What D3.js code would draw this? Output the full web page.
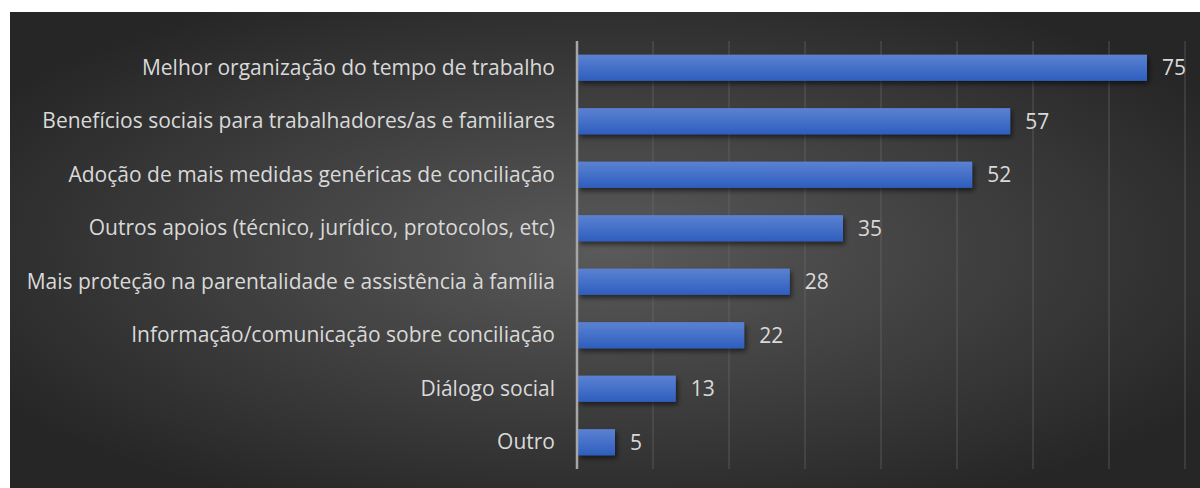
<!DOCTYPE html>
<html>
<head>
<meta charset="utf-8">
<script src="https://cdn.jsdelivr.net/npm/d3@7"></script>
<style>
  body { margin: 0; background: #fff; }
  text { font-family: "Open Sans", sans-serif; }
</style>
</head>
<body>
<div id="chart"></div>
<script>
let categories = [
    "Melhor organização do tempo de trabalho",
    "Benefícios sociais para trabalhadores/as e familiares",
    "Adoção de mais medidas genéricas de conciliação",
    "Outros apoios (técnico, jurídico, protocolos, etc)",
    "Mais proteção na parentalidade e assistência à família",
    "Informação/comunicação sobre conciliação",
    "Diálogo social",
    "Outro"
];
let values = [75, 57, 52, 35, 28, 22, 13, 5];
let gridTicks = [0, 10, 20, 30, 40, 50, 60, 70, 80];

let W = 1200, H = 488;
let margin = {top: 41, right: 15, bottom: 19, left: 577};
let width = W - margin.left - margin.right,
    height = H - margin.top - margin.bottom;

let root = d3.select("#chart").append("svg")
    .attr("width", W)
    .attr("height", H);

let defs = root.append("defs");

let bg = defs.append("radialGradient")
    .attr("id", "bg")
    .attr("cx", "50%").attr("cy", "50%").attr("r", "60%")
    .attr("gradientUnits", "objectBoundingBox");
bg.append("stop").attr("offset", "0%").attr("stop-color", "#5a5a5a");
bg.append("stop").attr("offset", "100%").attr("stop-color", "#262626");

let barGrad = defs.append("linearGradient")
    .attr("id", "barGrad")
    .attr("x1", 0).attr("y1", 0).attr("x2", 0).attr("y2", 1);
barGrad.append("stop").attr("offset", "0%").attr("stop-color", "#5b82d2");
barGrad.append("stop").attr("offset", "100%").attr("stop-color", "#2e5ebe");

let shadow = defs.append("filter")
    .attr("id", "shadow")
    .attr("x", "-10%").attr("y", "-30%").attr("width", "130%").attr("height", "180%");
shadow.append("feDropShadow")
    .attr("dx", 2).attr("dy", 3).attr("stdDeviation", 2.5)
    .attr("flood-color", "#000").attr("flood-opacity", 0.55);

// background panel (white strip on top/left)
root.append("rect")
    .attr("x", 10).attr("y", 12)
    .attr("width", W - 10).attr("height", H - 12)
    .attr("fill", "url(#bg)");

let svg = root.append("g")
    .attr("transform", "translate(" + margin.left + "," + margin.top + ")");

let x = d3.scaleLinear()
    .domain([0, 80])
    .range([0, width]);

let y = d3.scaleBand()
    .domain(categories)
    .range([0, height])
    .paddingInner(0.51)
    .paddingOuter(0.255);

// gridlines
svg.selectAll(".grid")
    .data(gridTicks.slice(1))
    .enter().append("line")
    .attr("class", "grid")
    .attr("x1", d => x(d)).attr("x2", d => x(d))
    .attr("y1", 0).attr("y2", height)
    .attr("stroke", "#6e6e6e")
    .attr("stroke-opacity", 0.4)
    .attr("stroke-width", 1.5);

// bars
svg.selectAll(".bar")
    .data(values)
    .enter().append("rect")
    .attr("class", "bar")
    .attr("x", x(0) + 1)
    .attr("y", (d, i) => y(categories[i]))
    .attr("width", d => x(d) - x(0) - 1)
    .attr("height", y.bandwidth())
    .attr("fill", "url(#barGrad)")
    .attr("filter", "url(#shadow)");

// y axis line
svg.append("line")
    .attr("x1", x(0)).attr("x2", x(0))
    .attr("y1", 0).attr("y2", height)
    .attr("stroke", "#a6a6a6")
    .attr("stroke-width", 2.5);

// category labels
svg.selectAll(".cat")
    .data(categories)
    .enter().append("text")
    .attr("class", "cat")
    .attr("x", -22)
    .attr("y", d => y(d) + y.bandwidth() / 2)
    .attr("dy", "0.34em")
    .attr("text-anchor", "end")
    .attr("fill", "#d9d9d9")
    .style("font-size", "21px")
    .text(d => d);

// value labels
svg.selectAll(".val")
    .data(values)
    .enter().append("text")
    .attr("class", "val")
    .attr("x", d => x(d) + 15)
    .attr("y", (d, i) => y(categories[i]) + y.bandwidth() / 2)
    .attr("dy", "0.36em")
    .attr("fill", "#d9d9d9")
    .style("font-size", "21px")
    .text(d => d);
</script>
</body>
</html>
